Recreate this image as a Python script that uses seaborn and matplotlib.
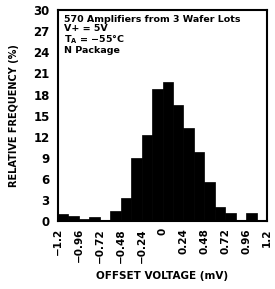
import matplotlib
matplotlib.use('Agg')
import matplotlib.pyplot as plt
import seaborn as sns
import numpy as np

# Offset voltage bins (mV), left edges, 0.12 mV wide
bin_left = [-1.2, -1.08, -0.96, -0.84, -0.72, -0.6, -0.48, -0.36, -0.24, -0.12,
            0.0, 0.12, 0.24, 0.36, 0.48, 0.6, 0.72, 0.84, 0.96, 1.08]
bin_width = 0.12
rel_freq = [1.0, 0.7, 0.25, 0.6, 0.2, 1.4, 3.3, 9.0, 12.3, 18.8,
            19.8, 16.5, 13.2, 9.8, 5.6, 2.0, 1.2, 0.2, 1.2, 0.2]

xticks = [-1.2, -0.96, -0.72, -0.48, -0.24, 0, 0.24, 0.48, 0.72, 0.96, 1.2]
xtick_labels = ['\u22121.2', '\u22120.96', '\u22120.72', '\u22120.48', '\u22120.24', '0',
                '0.24', '0.48', '0.72', '0.96', '1.2']
yticks = [0, 3, 6, 9, 12, 15, 18, 21, 24, 27, 30]

sns.set_style('white')
plt.rcParams['font.family'] = ['DejaVu Sans']
plt.rcParams['font.weight'] = 'bold'
plt.rcParams['text.color'] = 'black'
plt.rcParams['axes.labelcolor'] = 'black'
plt.rcParams['xtick.color'] = 'black'
plt.rcParams['ytick.color'] = 'black'

fig = plt.figure(figsize=(2.75, 2.89), dpi=100)
ax = fig.add_axes([0.211, 0.235, 0.76, 0.73])

centers = np.array(bin_left) + bin_width / 2
edges = bin_left + [bin_left[-1] + bin_width]
sns.histplot(x=centers, weights=rel_freq, bins=edges, ax=ax,
             color='black', edgecolor='black', alpha=1, linewidth=0.5)

ax.set_xlim(-1.2, 1.2)
ax.set_ylim(0, 30)
ax.set_xticks(xticks)
ax.set_xticklabels(xtick_labels, rotation=90, fontsize=7.5, fontweight='bold')
ax.set_yticks(yticks)
ax.set_yticklabels([str(v) for v in yticks], fontsize=8.5, fontweight='bold')
ax.tick_params(direction='in', length=4, width=1.2)
ax.tick_params(axis='x', pad=5)
ax.tick_params(axis='y', pad=6)
for s in ax.spines.values():
    s.set_linewidth(1.5)
    s.set_color('black')

ax.set_xlabel('OFFSET VOLTAGE (mV)', fontsize=7.5, fontweight='bold', labelpad=6)
ax.set_ylabel('RELATIVE FREQUENCY (%)', fontsize=7, fontweight='bold', labelpad=10)

ax.text(0.03, 0.975, '570 Amplifiers from 3 Wafer Lots\nV+ = 5V\n$\\mathbf{T_A}$ = \u221255\u00b0C\nN Package',
        transform=ax.transAxes, ha='left', va='top', fontsize=6.8,
        fontweight='bold', linespacing=1.0)

fig.savefig('out.png', dpi=100)
